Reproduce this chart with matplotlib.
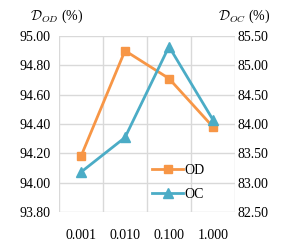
import matplotlib.pyplot as plt

plt.rcParams['font.family'] = ['Liberation Serif', 'DejaVu Serif']
plt.rcParams['mathtext.fontset'] = 'cm'

# categories on x axis
lambdas = ["0.001", "0.010", "0.100", "1.000"]
# values
od = [94.18, 94.90, 94.71, 94.38]
oc = [83.18, 83.77, 85.32, 84.07]

orange = "#F79646"
blue = "#4BACC6"
grid = "#D9D9D9"

fig = plt.figure(figsize=(2.86, 2.48), dpi=100)
ax = fig.add_axes([59 / 286, 36 / 248, 176 / 286, 176 / 248])
ax2 = ax.twinx()

x = list(range(len(lambdas)))
l1, = ax.plot(x, od, color=orange, lw=2, marker="s", ms=6, label="OD")
l2, = ax2.plot(x, oc, color=blue, lw=2, marker="^", ms=7, label="OC")

ax.set_xlim(-0.5, 3.5)
ax.set_ylim(93.8, 95.0)
ax2.set_ylim(82.5, 85.5)
ax.set_yticks([93.8 + 0.2 * i for i in range(7)])
ax2.set_yticks([82.5 + 0.5 * i for i in range(7)])
ax.set_yticklabels([f"{93.8 + 0.2 * i:.2f}" for i in range(7)])
ax2.set_yticklabels([f"{82.5 + 0.5 * i:.2f}" for i in range(7)])
ax.set_xticks(x)
ax.set_xticklabels(lambdas)

# gridlines between categories, like a spreadsheet chart
ax.set_xticks([-0.5, 0.5, 1.5, 2.5, 3.5], minor=True)
ax.grid(True, which="minor", axis="x", color=grid, lw=1)
ax.grid(True, which="major", axis="y", color=grid, lw=1)
ax.set_axisbelow(True)

for a in (ax, ax2):
    for s in a.spines.values():
        s.set_visible(False)
    a.tick_params(length=0, labelsize=10, colors="black")
ax.tick_params(axis="x", which="both", length=0, pad=12)
ax.tick_params(axis="y", pad=6)
ax2.tick_params(axis="y", pad=2)

fig.text(30 / 286, 1 - 16 / 248, r"$\mathcal{D}_{OD}$ (%)", fontsize=10, va="center")
fig.text(218 / 286, 1 - 16 / 248, r"$\mathcal{D}_{OC}$ (%)", fontsize=10, va="center")

ax.legend(handles=[l1, l2], loc="lower right", bbox_to_anchor=(0.865, 0.025),
          frameon=False, fontsize=10, handlelength=2.2, handletextpad=0.1,
          labelspacing=0.75, borderpad=0)

fig.savefig("out.png", dpi=100)
